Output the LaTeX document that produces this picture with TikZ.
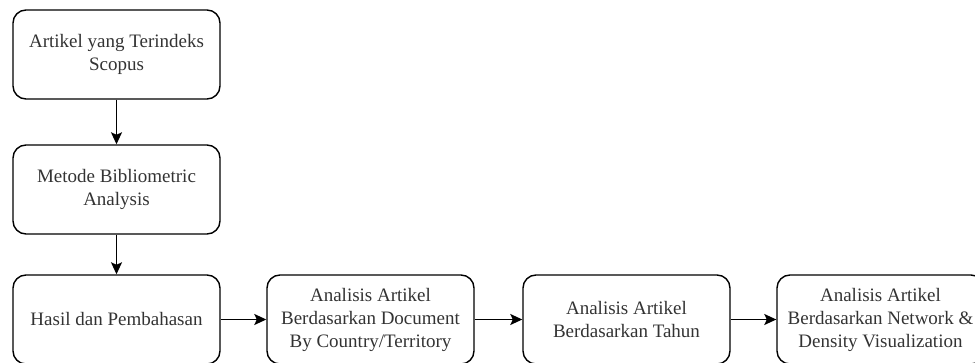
\documentclass[tikz,border=0pt]{standalone}
\usepackage{fontspec}
\setmainfont{Liberation Serif}
\usetikzlibrary{arrows.meta}
\begin{document}
\begin{tikzpicture}[x=1pt,y=-1pt,
  box/.style={draw=black, line width=1.4pt, rounded corners=13pt, minimum width=207pt, minimum height=89pt,
    align=center, inner sep=0pt, text=black!80, font=\fontsize{19}{23}\selectfont},
  conn/.style={line width=1.4pt, -{Stealth[length=12pt,width=11pt,inset=2.5pt]}}]
\useasboundingbox (0,0) rectangle (975,363);
\clip (0,0) rectangle (975,363);
\node[box] (a) at (116.5,54.5) {Artikel yang Terindeks\\Scopus};
\node[box] (b) at (116.5,189.5) {Metode Bibliometric\\Analysis};
\node[box] (c) at (116.5,319.5) {Hasil dan Pembahasan};
\node[box] (d) at (370.5,319.5) {Analisis Artikel\\Berdasarkan Document\\By Country/Territory};
\node[box] (e) at (626.5,319.5) {Analisis Artikel\\Berdasarkan Tahun};
\node[box] (f) at (880.5,319.5) {Analisis Artikel\\Berdasarkan Network \&\\Density Visualization};
\draw[conn] (a) -- (b);
\draw[conn] (b) -- (c);
\draw[conn] (c) -- (d);
\draw[conn] (d) -- (e);
\draw[conn] (e) -- (f);
\end{tikzpicture}
\end{document}
